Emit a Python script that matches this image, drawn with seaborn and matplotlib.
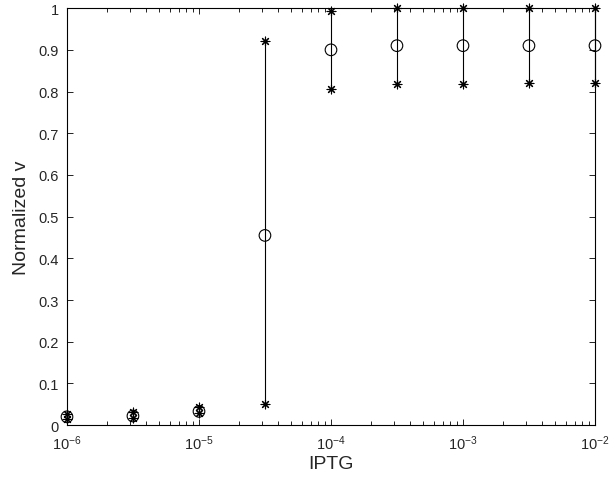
import numpy as np
import pandas as pd
import matplotlib
matplotlib.use("Agg")
import matplotlib.pyplot as plt
from matplotlib.ticker import LogLocator, NullFormatter
import seaborn as sns

# IPTG concentrations (half-decade steps) and normalized v: mean, min, max
iptg = [1e-6, 3.16e-6, 1e-5, 3.16e-5, 1e-4, 3.16e-4, 1e-3, 3.16e-3, 1e-2]
v_mean = [0.020, 0.022, 0.033, 0.455, 0.900, 0.910, 0.910, 0.910, 0.910]
v_min = [0.015, 0.018, 0.028, 0.050, 0.806, 0.818, 0.818, 0.820, 0.820]
v_max = [0.026, 0.032, 0.043, 0.921, 0.993, 1.000, 1.000, 1.000, 1.000]

xtick_vals = [1e-6, 1e-5, 1e-4, 1e-3, 1e-2]
xtick_labels = ["10$^{-6}$", "10$^{-5}$", "10$^{-4}$", "10$^{-3}$", "10$^{-2}$"]
ytick_vals = [0, 0.1, 0.2, 0.3, 0.4, 0.5, 0.6, 0.7, 0.8, 0.9, 1]
ytick_labels = ["0", "0.1", "0.2", "0.3", "0.4", "0.5", "0.6", "0.7", "0.8", "0.9", "1"]

df = pd.DataFrame({"IPTG": iptg, "mean": v_mean, "vmin": v_min, "vmax": v_max})
ends = pd.concat([df[["IPTG"]].assign(v=df["vmin"]), df[["IPTG"]].assign(v=df["vmax"])])

sns.set_style("white")
plt.rcParams["font.family"] = ["Liberation Sans", "DejaVu Sans"]
plt.rcParams["mathtext.fontset"] = "custom"
plt.rcParams["mathtext.rm"] = "Liberation Sans"
plt.rcParams["mathtext.it"] = "Liberation Sans:italic"

fig = plt.figure(figsize=(6.09, 4.81), dpi=100)
ax = fig.add_axes([0.110, 0.114, 0.867, 0.867])

# min-max bars
ax.vlines(df["IPTG"], df["vmin"], df["vmax"], color="black", linewidth=0.8, clip_on=False, zorder=2)
# min/max asterisks (plus + cross, like MATLAB '*')
sns.scatterplot(data=ends, x="IPTG", y="v", ax=ax, marker=(8, 2, 0), s=40,
                color="black", linewidth=0.8, clip_on=False, zorder=3)
# mean circles
sns.scatterplot(data=df, x="IPTG", y="mean", ax=ax, marker="o", s=70,
                facecolor="none", edgecolor="black", linewidth=0.8, clip_on=False, zorder=4)

ax.set_xscale("log")
ax.set_xlim(1e-6, 1e-2)
ax.set_ylim(0, 1)
ax.set_xticks(xtick_vals)
ax.set_xticklabels(xtick_labels)
ax.xaxis.set_minor_locator(LogLocator(base=10, subs=range(2, 10), numticks=20))
ax.xaxis.set_minor_formatter(NullFormatter())
ax.set_yticks(ytick_vals)
ax.set_yticklabels(ytick_labels)

ax.set_xlabel("IPTG", fontsize=14, labelpad=2)
ax.set_ylabel("Normalized v", fontsize=14, labelpad=6)

for s in ax.spines.values():
    s.set_color("black")
    s.set_linewidth(0.8)
ax.tick_params(which="both", direction="in", top=True, right=True,
               bottom=True, left=True, color="black", labelsize=10.5)
ax.tick_params(which="major", length=4, width=0.6, pad=6)
ax.tick_params(axis="x", which="minor", length=3, width=0.6, top=True, bottom=True)
ax.tick_params(axis="y", which="minor", left=False, right=False)

fig.savefig("out.png", dpi=100)
